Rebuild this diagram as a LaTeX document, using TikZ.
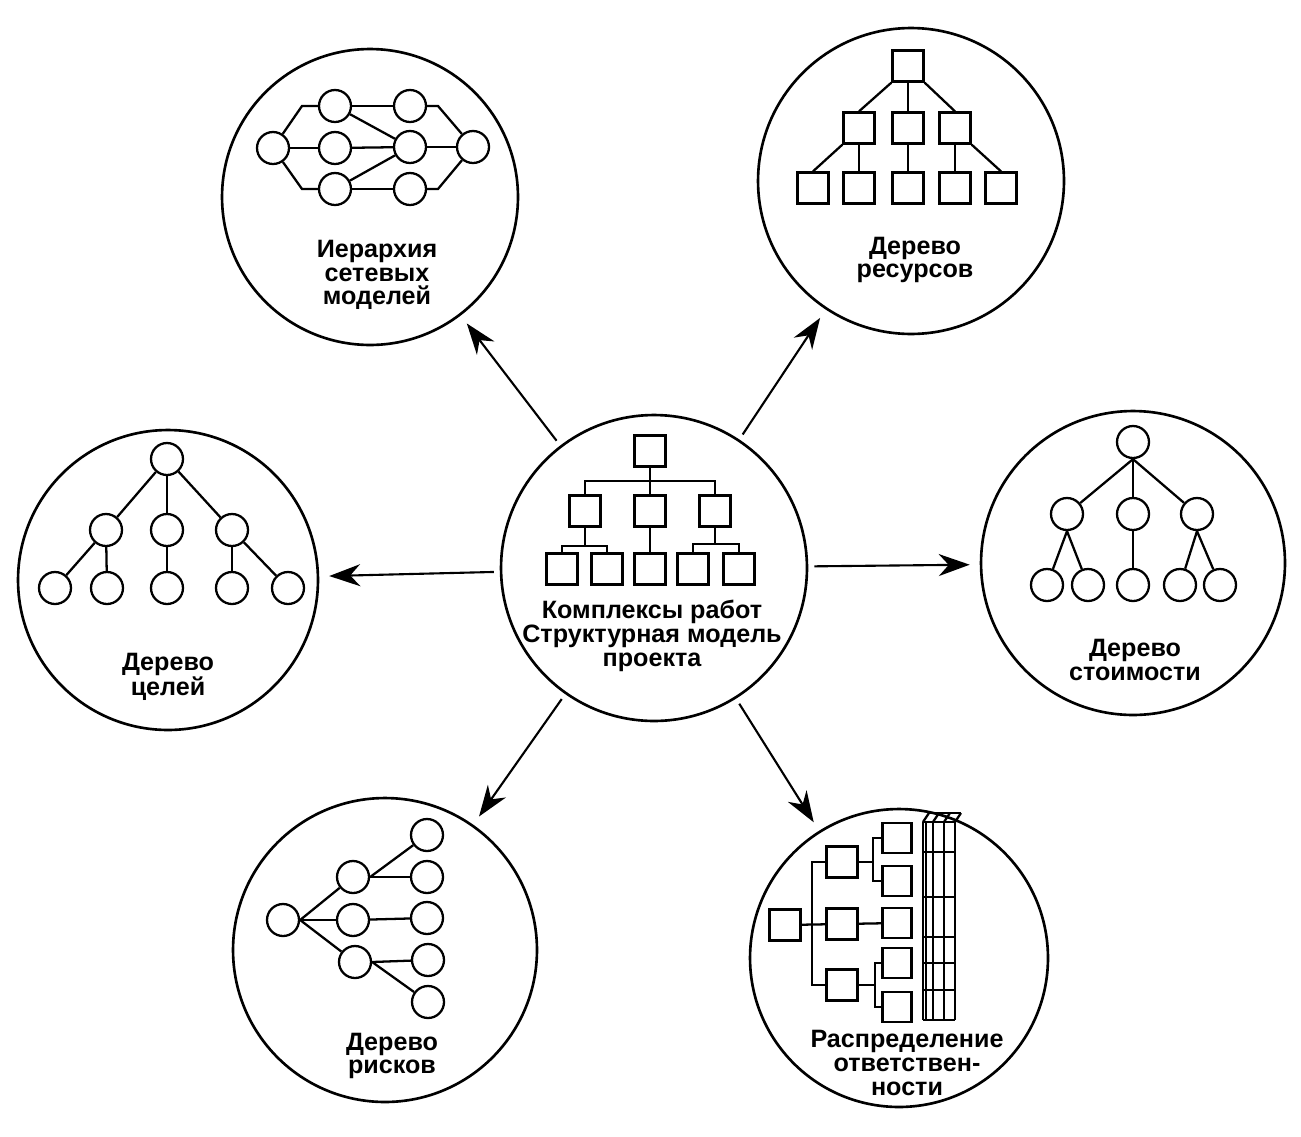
\documentclass[tikz,border=0pt]{standalone}
\usepackage{fontspec}
\setmainfont{Liberation Sans}
\usetikzlibrary{arrows.meta}

\tikzset{
  big/.style={circle,draw,line width=1.5pt,minimum size=6cm,inner sep=0pt},
  dot/.style={circle,draw,line width=1.3pt,minimum size=0.64cm,inner sep=0pt},
  box/.style={rectangle,draw,line width=1.3pt,minimum size=0.62cm,inner sep=0pt},
  sbox/.style={box,minimum width=0.58cm,minimum height=0.6cm},
  lbl/.style={align=center,font=\fontsize{14.3}{13.5}\selectfont\bfseries},
  ln/.style={line width=1.3pt},
}

\begin{document}
\begin{tikzpicture}[x=0.02cm,y=-0.02cm]
\useasboundingbox (0,0) rectangle (1301,1136);

% circles
\node[big,minimum size=6.12cm] (m) at (654,568) {};
\node[big,minimum size=5.92cm] (net) at (370,197) {};
\node[big,minimum size=6.12cm] (res) at (911,181) {};
\node[big] (goal) at (168,580) {};
\node[big,minimum size=6.08cm] (cost) at (1133,563) {};
\node[big,minimum size=6.08cm] (risk) at (385,950) {};
\node[big,minimum size=5.96cm] (resp) at (899,958) {};

\path[-{Stealth[length=0.62cm,width=0.44cm,inset=0.2cm]},line width=1.2pt,shorten <=0.12cm,shorten >=0.2cm]
  (m) edge (net) edge (res) edge (goal) edge (cost) edge (risk) edge (resp);

% labels
\node[lbl] (t-m) at (652,636) {Комплексы работ\\Структурная модель\\проекта};
\node[lbl] (t-net) at (377,275) {Иерархия\\сетевых\\моделей};
\node[lbl] (t-res) at (915,260) {Дерево\\ресурсов};
\node[lbl] (t-goal) at (168,677) {Дерево\\целей};
\node[lbl] (t-cost) at (1135,660) {Дерево\\стоимости};
\node[lbl] (t-risk) at (392,1056) {Дерево\\рисков};
\node[lbl] (t-resp) at (907,1063) {Распределение\\ответствен-\\ности};

% structure of works
\node[box] (m0) at (650,451) {};
\node[box] (m1) at (585,511) {};
\node[box] (m2) at (650,511) {};
\node[box] (m3) at (715,511) {};
\node[box] (m11) at (562,569) {};
\node[box] (m12) at (607,569) {};
\node[box] (m21) at (650,569) {};
\node[box] (m31) at (693,569) {};
\node[box] (m32) at (739,569) {};
\coordinate (mb) at (650,481);
\draw[ln] (m0) -- (m2);
\draw[ln] (m1) |- (mb) -| (m3);
\draw[ln] (m1.south) -- ++(0,18) coordinate (m1b);
\draw[ln] (m11) |- (m1b) -| (m12);
\draw[ln] (m2) -- (m21);
\draw[ln] (m3.south) -- ++(0,16) coordinate (m3b);
\draw[ln] (m31) |- (m3b) -| (m32);

% network
\node[dot] (n0) at (273,148) {};
\node[dot] (n1) at (335,106) {};
\node[dot] (n2) at (335,148) {};
\node[dot] (n3) at (335,189) {};
\node[dot] (n4) at (410,106) {};
\node[dot] (n5) at (410,147) {};
\node[dot] (n6) at (410,189) {};
\node[dot] (n7) at (473,147) {};
\draw[ln] (n0) -- (302,106) -- (n1);
\draw[ln] (n0) -- (302,189) -- (n3);
\draw[ln] (n4) -- (438,106) -- (n7);
\draw[ln] (n6) -- (438,189) -- (n7);
\path[ln] (n0) edge (n2)
  (n1) edge (n4) edge (n5)
  (n2) edge (n5)
  (n3) edge (n5) edge (n6)
  (n5) edge (n7);

% resources
\node[box] (r0) at (908,66) {};
\node[box] (r1) at (859,128) {};
\node[box] (r2) at (908,128) {};
\node[box] (r3) at (955,128) {};
\node[box] (r11) at (813,188) {};
\node[box] (r12) at (859,188) {};
\node[box] (r21) at (908,188) {};
\node[box] (r31) at (955,188) {};
\node[box] (r32) at (1001,188) {};
\draw[ln] (r0.south west) -- (r1.north);
\draw[ln] (r0.south east) -- (r3.north);
\draw[ln] (r1.south west) -- (r11.north);
\draw[ln] (r3.south east) -- (r32.north);
\path[ln] (r0) edge (r2) (r1) edge (r12) (r2) edge (r21) (r3) edge (r31);

% goals
\node[dot] (g0) at (167,459) {};
\node[dot] (g1) at (106,530) {};
\node[dot] (g2) at (167,530) {};
\node[dot] (g3) at (232,530) {};
\node[dot] (g11) at (55,588) {};
\node[dot] (g12) at (107,588) {};
\node[dot] (g21) at (167,588) {};
\node[dot] (g31) at (232,588) {};
\node[dot] (g32) at (288,588) {};
\path[ln] (g0) edge (g1) edge (g2) edge (g3)
  (g1) edge (g11) edge (g12)
  (g2) edge (g21)
  (g3) edge (g31) edge (g32);

% cost
\node[dot] (c0) at (1133,442) {};
\node[dot] (c1) at (1067,514) {};
\node[dot] (c2) at (1133,514) {};
\node[dot] (c3) at (1197,514) {};
\node[dot] (c11) at (1047,585) {};
\node[dot] (c12) at (1088,585) {};
\node[dot] (c21) at (1133,585) {};
\node[dot] (c31) at (1180,585) {};
\node[dot] (c32) at (1220,585) {};
\path[ln] (c0.south) edge (c1) edge (c2) edge (c3)
  (c1.south) edge (c11) edge (c12)
  (c2) edge (c21)
  (c3.south) edge (c31) edge (c32);

% risks
\node[dot] (k0) at (283,920) {};
\node[dot] (k1) at (353,877) {};
\node[dot] (k2) at (353,920) {};
\node[dot] (k3) at (355,962) {};
\node[dot] (k11) at (427,835) {};
\node[dot] (k12) at (427,877) {};
\node[dot] (k21) at (427,918) {};
\node[dot] (k31) at (428,960) {};
\node[dot] (k32) at (428,1002) {};
\path[ln] (k0.east) edge (k1) edge (k2) edge (k3)
  (k1.east) edge (k11) edge (k12)
  (k2) edge (k21)
  (k3.east) edge (k31) edge (k32);

% responsibility
\node[box] (p0) at (785,925) {};
\node[box] (p1) at (842,862) {};
\node[box] (p2) at (842,924) {};
\node[box] (p3) at (842,985) {};
\node[sbox] (p11) at (897,838) {};
\node[sbox] (p12) at (897,881) {};
\node[sbox] (p21) at (897,923) {};
\node[sbox] (p31) at (897,963) {};
\node[sbox] (p32) at (897,1007) {};
\coordinate (pb) at (812,925);
\coordinate (p1b) at (873,862);
\coordinate (p3b) at (875,985);
\draw[ln] (p0) -- (p2);
\draw[ln] (p1) -| (pb) |- (p3);
\draw[ln] (p1) -- (p1b);
\draw[ln] (p11) -| (p1b) |- (p12);
\draw[ln] (p2) -- (p21);
\draw[ln] (p3) -- (p3b);
\draw[ln] (p31) -| (p3b) |- (p32);
\foreach \x in {923,926,933,944,955} \draw[ln] (\x,822) -- (\x,1020);
\foreach \y in {822,852,897,937,963,990,1020} \draw[ln] (923,\y) -- (955,\y);
\foreach \x in {923,933,944,955} \draw[ln] (\x,822) -- ({\x+6},813);
\draw[ln] (929,813) -- (961,813);
\end{tikzpicture}
\end{document}
